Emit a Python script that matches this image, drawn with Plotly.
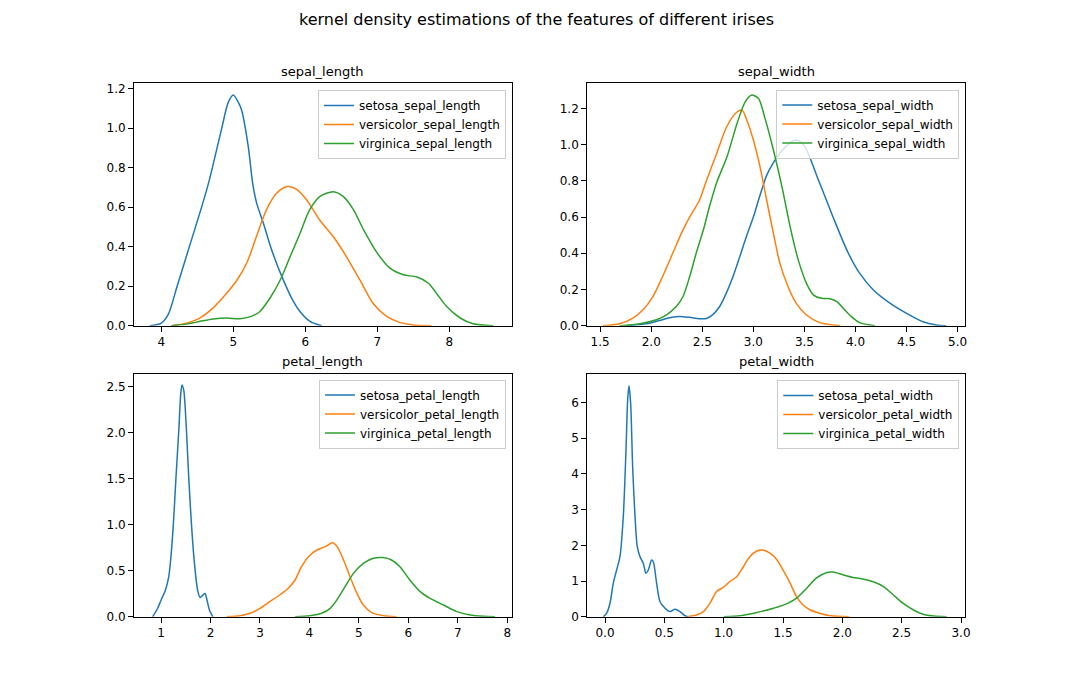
import plotly.graph_objects as go

# ---------------- data ----------------
# sepal_length
sl_setosa_x = [3.84, 4.00, 4.10, 4.22, 4.39, 4.56, 4.64, 4.71, 4.84, 4.93, 5.00, 5.07, 5.116, 5.208, 5.269, 5.324, 5.417, 5.509, 5.60, 5.694, 5.81, 5.926, 6.065, 6.227]
sl_setosa_y = [0.0, 0.013, 0.06, 0.20, 0.40, 0.60, 0.70, 0.80, 1.00, 1.13, 1.167, 1.13, 1.09, 0.906, 0.72, 0.62, 0.52, 0.41, 0.316, 0.232, 0.14, 0.072, 0.022, 0.0]
sl_versi_x = [4.14, 4.35, 4.54, 4.72, 4.91, 5.05, 5.19, 5.32, 5.46, 5.60, 5.75, 5.88, 6.02, 6.20, 6.39, 6.57, 6.76, 6.94, 7.13, 7.31, 7.50, 7.75]
sl_versi_y = [0.0, 0.013, 0.04, 0.09, 0.165, 0.23, 0.32, 0.45, 0.586, 0.67, 0.704, 0.69, 0.636, 0.535, 0.45, 0.35, 0.23, 0.114, 0.047, 0.017, 0.003, 0.0]
sl_virgi_x = [4.14, 4.35, 4.54, 4.72, 4.91, 5.09, 5.25, 5.37, 5.51, 5.65, 5.79, 5.93, 6.06, 6.20, 6.39, 6.53, 6.67, 6.81, 7.00, 7.18, 7.36, 7.55, 7.71, 7.82, 7.96, 8.15, 8.33, 8.61]
sl_virgi_y = [0.0, 0.008, 0.022, 0.034, 0.039, 0.035, 0.047, 0.072, 0.14, 0.23, 0.35, 0.47, 0.586, 0.653, 0.678, 0.653, 0.586, 0.485, 0.367, 0.29, 0.258, 0.246, 0.215, 0.165, 0.098, 0.039, 0.01, 0.0]

# sepal_width
sw_setosa_x = [1.755, 1.95, 2.08, 2.18, 2.28, 2.376, 2.47, 2.54, 2.60, 2.67, 2.735, 2.80, 2.866, 2.93, 3.00, 3.065, 3.13, 3.196, 3.27, 3.34, 3.41, 3.49, 3.64, 3.78, 3.93, 4.04, 4.17, 4.34, 4.50, 4.66, 4.79, 4.89]
sw_setosa_y = [0.0, 0.011, 0.029, 0.044, 0.051, 0.046, 0.039, 0.04, 0.06, 0.106, 0.18, 0.27, 0.38, 0.49, 0.60, 0.72, 0.83, 0.90, 0.96, 1.0, 1.025, 1.0, 0.80, 0.60, 0.40, 0.29, 0.20, 0.123, 0.068, 0.022, 0.004, 0.0]
sw_versi_x = [1.526, 1.69, 1.82, 1.92, 2.016, 2.11, 2.21, 2.31, 2.376, 2.47, 2.54, 2.64, 2.74, 2.84, 2.89, 2.93, 3.00, 3.065, 3.13, 3.196, 3.26, 3.34, 3.42, 3.52, 3.65, 3.85]
sw_versi_y = [0.0, 0.011, 0.042, 0.088, 0.161, 0.27, 0.40, 0.528, 0.60, 0.69, 0.80, 0.95, 1.10, 1.18, 1.19, 1.144, 1.025, 0.877, 0.694, 0.51, 0.344, 0.215, 0.123, 0.059, 0.017, 0.0]
sw_virgi_x = [1.69, 1.886, 2.05, 2.15, 2.245, 2.31, 2.376, 2.44, 2.51, 2.57, 2.64, 2.74, 2.84, 2.92, 2.98, 3.05, 3.11, 3.196, 3.28, 3.36, 3.44, 3.52, 3.59, 3.67, 3.75, 3.82, 3.88, 3.96, 4.04, 4.19]
sw_virgi_y = [0.0, 0.011, 0.033, 0.06, 0.106, 0.16, 0.27, 0.40, 0.528, 0.657, 0.79, 0.93, 1.117, 1.236, 1.273, 1.255, 1.153, 0.97, 0.767, 0.546, 0.362, 0.234, 0.169, 0.151, 0.149, 0.132, 0.096, 0.05, 0.017, 0.0]

# petal_length
pl_setosa_x = [0.83, 0.93, 1.00, 1.09, 1.155, 1.20, 1.25, 1.30, 1.36, 1.40, 1.425, 1.46, 1.51, 1.56, 1.615, 1.676, 1.74, 1.79, 1.845, 1.89, 1.93, 1.98, 2.05]
pl_setosa_y = [0.0, 0.09, 0.18, 0.29, 0.43, 0.65, 1.01, 1.49, 2.03, 2.43, 2.52, 2.46, 2.07, 1.52, 1.01, 0.58, 0.29, 0.21, 0.235, 0.254, 0.18, 0.072, 0.0]
pl_versi_x = [2.33, 2.60, 2.80, 3.00, 3.20, 3.40, 3.57, 3.71, 3.84, 3.98, 4.15, 4.32, 4.47, 4.56, 4.69, 4.82, 4.96, 5.09, 5.26, 5.50, 5.76]
pl_versi_y = [0.0, 0.012, 0.038, 0.092, 0.165, 0.237, 0.31, 0.40, 0.544, 0.653, 0.726, 0.762, 0.805, 0.762, 0.617, 0.436, 0.255, 0.128, 0.045, 0.012, 0.0]
pl_virgi_x = [3.71, 4.01, 4.25, 4.42, 4.55, 4.72, 4.89, 5.09, 5.29, 5.49, 5.66, 5.83, 6.03, 6.24, 6.44, 6.71, 6.98, 7.25, 7.52, 7.75]
pl_virgi_y = [0.0, 0.012, 0.038, 0.092, 0.18, 0.327, 0.472, 0.58, 0.636, 0.643, 0.617, 0.544, 0.40, 0.273, 0.20, 0.128, 0.056, 0.02, 0.005, 0.0]

# petal_width
pw_setosa_x = [-0.014, 0.014, 0.042, 0.07, 0.098, 0.126, 0.154, 0.177, 0.191, 0.202, 0.216, 0.233, 0.253, 0.272, 0.295, 0.323, 0.345, 0.365, 0.393, 0.407, 0.435, 0.463, 0.506, 0.548, 0.59, 0.632, 0.674, 0.70]
pw_setosa_y = [0.0, 0.1, 0.38, 0.94, 1.31, 1.68, 2.8, 4.67, 6.07, 6.46, 5.98, 4.2, 2.8, 1.96, 1.68, 1.49, 1.22, 1.31, 1.59, 1.54, 0.94, 0.43, 0.24, 0.145, 0.21, 0.145, 0.03, 0.0]
pw_versi_x = [0.69, 0.77, 0.83, 0.885, 0.94, 1.00, 1.05, 1.11, 1.166, 1.22, 1.28, 1.33, 1.39, 1.45, 1.50, 1.56, 1.615, 1.67, 1.73, 1.81, 1.90, 2.06]
pw_versi_y = [0.0, 0.05, 0.145, 0.38, 0.71, 0.83, 0.98, 1.12, 1.40, 1.68, 1.84, 1.87, 1.78, 1.59, 1.31, 0.94, 0.56, 0.33, 0.19, 0.10, 0.03, 0.0]
pw_virgi_x = [1.00, 1.14, 1.28, 1.42, 1.53, 1.615, 1.70, 1.78, 1.87, 1.92, 2.01, 2.09, 2.18, 2.26, 2.35, 2.43, 2.51, 2.60, 2.68, 2.77, 2.88]
pw_virgi_y = [0.0, 0.03, 0.12, 0.24, 0.36, 0.52, 0.80, 1.08, 1.24, 1.25, 1.17, 1.10, 1.05, 0.98, 0.84, 0.61, 0.38, 0.19, 0.07, 0.02, 0.0]

features = ["sepal_length", "sepal_width", "petal_length", "petal_width"]
species = ["setosa", "versicolor", "virginica"]

x_ticks = [[4, 5, 6, 7, 8], [1.5, 2.0, 2.5, 3.0, 3.5, 4.0, 4.5, 5.0], [1, 2, 3, 4, 5, 6, 7, 8], [0.0, 0.5, 1.0, 1.5, 2.0, 2.5, 3.0]]
y_ticks = [[0.0, 0.2, 0.4, 0.6, 0.8, 1.0, 1.2], [0.0, 0.2, 0.4, 0.6, 0.8, 1.0, 1.2], [0.0, 0.5, 1.0, 1.5, 2.0, 2.5], [0, 1, 2, 3, 4, 5, 6]]
x_ticktext = [["4", "5", "6", "7", "8"], ["1.5", "2.0", "2.5", "3.0", "3.5", "4.0", "4.5", "5.0"], ["1", "2", "3", "4", "5", "6", "7", "8"], ["0.0", "0.5", "1.0", "1.5", "2.0", "2.5", "3.0"]]
y_ticktext = [["0.0", "0.2", "0.4", "0.6", "0.8", "1.0", "1.2"], ["0.0", "0.2", "0.4", "0.6", "0.8", "1.0", "1.2"], ["0.0", "0.5", "1.0", "1.5", "2.0", "2.5"], ["0", "1", "2", "3", "4", "5", "6"]]

series = [
    [(sl_setosa_x, sl_setosa_y), (sl_versi_x, sl_versi_y), (sl_virgi_x, sl_virgi_y)],
    [(sw_setosa_x, sw_setosa_y), (sw_versi_x, sw_versi_y), (sw_virgi_x, sw_virgi_y)],
    [(pl_setosa_x, pl_setosa_y), (pl_versi_x, pl_versi_y), (pl_virgi_x, pl_virgi_y)],
    [(pw_setosa_x, pw_setosa_y), (pw_versi_x, pw_versi_y), (pw_virgi_x, pw_virgi_y)],
]

# ---------------- layout / style ----------------
W, H = 1072, 693
colors = ["#1f77b4", "#ff7f0e", "#2ca02c"]
FONT = "DejaVu Sans"

x_ranges = [[3.621, 8.865], [1.373, 5.07], [0.454, 8.087], [-0.150, 3.032]]
y_ranges = [[0, 1.227], [0, 1.339], [0, 2.636], [0, 6.786]]
x_domains = [[134 / W, 511.6 / W], [587.2 / W, 964.8 / W]] * 2
y_domains = [[1 - 325.7 / H, 1 - 83.2 / H]] * 2 + [[1 - 616.8 / H, 1 - 374.2 / H]] * 2
legend_pos = [(506 / W, 1 - 90 / H), (959.3 / W, 1 - 89.5 / H), (506 / W, 1 - 379.5 / H), (959.3 / W, 1 - 380 / H)]
title_pos = [(322.8 / W, 1 - 71 / H), (776 / W, 1 - 71 / H), (322.8 / W, 1 - 361.7 / H), (776 / W, 1 - 361.7 / H)]

fig = go.Figure()
layout = dict(
    width=W, height=H,
    margin=dict(l=0, r=0, t=0, b=0, autoexpand=False),
    paper_bgcolor="white", plot_bgcolor="white",
    font=dict(family=FONT, size=12, color="black"),
    annotations=[],
)

for i, feat in enumerate(features):
    n = "" if i == 0 else str(i + 1)
    legname = "legend" + n
    for j, sp in enumerate(species):
        xs, ys = series[i][j]
        fig.add_trace(go.Scatter(
            x=xs, y=ys, mode="lines",
            line=dict(color=colors[j], width=1.5, shape="spline", smoothing=0.8),
            name=f"{sp}_{feat}",
            xaxis="x" + n, yaxis="y" + n,
            legend=legname,
        ))
    axis_common = dict(
        showgrid=False, zeroline=False, showline=True, mirror=True,
        linecolor="black", linewidth=1,
        ticks="outside", ticklen=5, tickwidth=1, tickcolor="black",
        tickfont=dict(family=FONT, size=12, color="black"),
    )
    layout["xaxis" + n] = dict(
        axis_common, domain=x_domains[i], range=x_ranges[i],
        anchor="y" + n, tickmode="array", tickvals=x_ticks[i], ticktext=x_ticktext[i],
    )
    layout["yaxis" + n] = dict(
        axis_common, domain=y_domains[i], range=y_ranges[i],
        anchor="x" + n, tickmode="array", tickvals=y_ticks[i], ticktext=y_ticktext[i],
    )
    lx, ly = legend_pos[i]
    layout[legname] = dict(
        x=lx, y=ly, xanchor="right", yanchor="top",
        bgcolor="rgba(255,255,255,0.8)", bordercolor="#cccccc", borderwidth=1,
        font=dict(family=FONT, size=12, color="black"),
        itemwidth=30, tracegroupgap=0,
    )
    tx, ty = title_pos[i]
    layout["annotations"].append(dict(
        text=feat, x=tx, y=ty, xref="paper", yref="paper",
        xanchor="center", yanchor="middle", showarrow=False,
        font=dict(family=FONT, size=13, color="black"),
    ))

layout["annotations"].append(dict(
    text="kernel density estimations of the features of different irises",
    x=536 / W, y=1 - 20 / H, xref="paper", yref="paper",
    xanchor="center", yanchor="middle", showarrow=False,
    font=dict(family=FONT, size=16, color="black"),
))

fig.update_layout(**layout)

page_fix = (
    "var gd=document.getElementById('{plot_id}');"
    "gd.style.position='absolute';gd.style.left='0px';gd.style.top='0px';"
    "document.documentElement.style.margin='0';document.documentElement.style.overflow='hidden';"
    "document.body.style.margin='0';document.body.style.padding='0';document.body.style.overflow='hidden';"
)
fig.write_html(
    "out.html",
    config={"displayModeBar": False},
    post_script=page_fix,
)
